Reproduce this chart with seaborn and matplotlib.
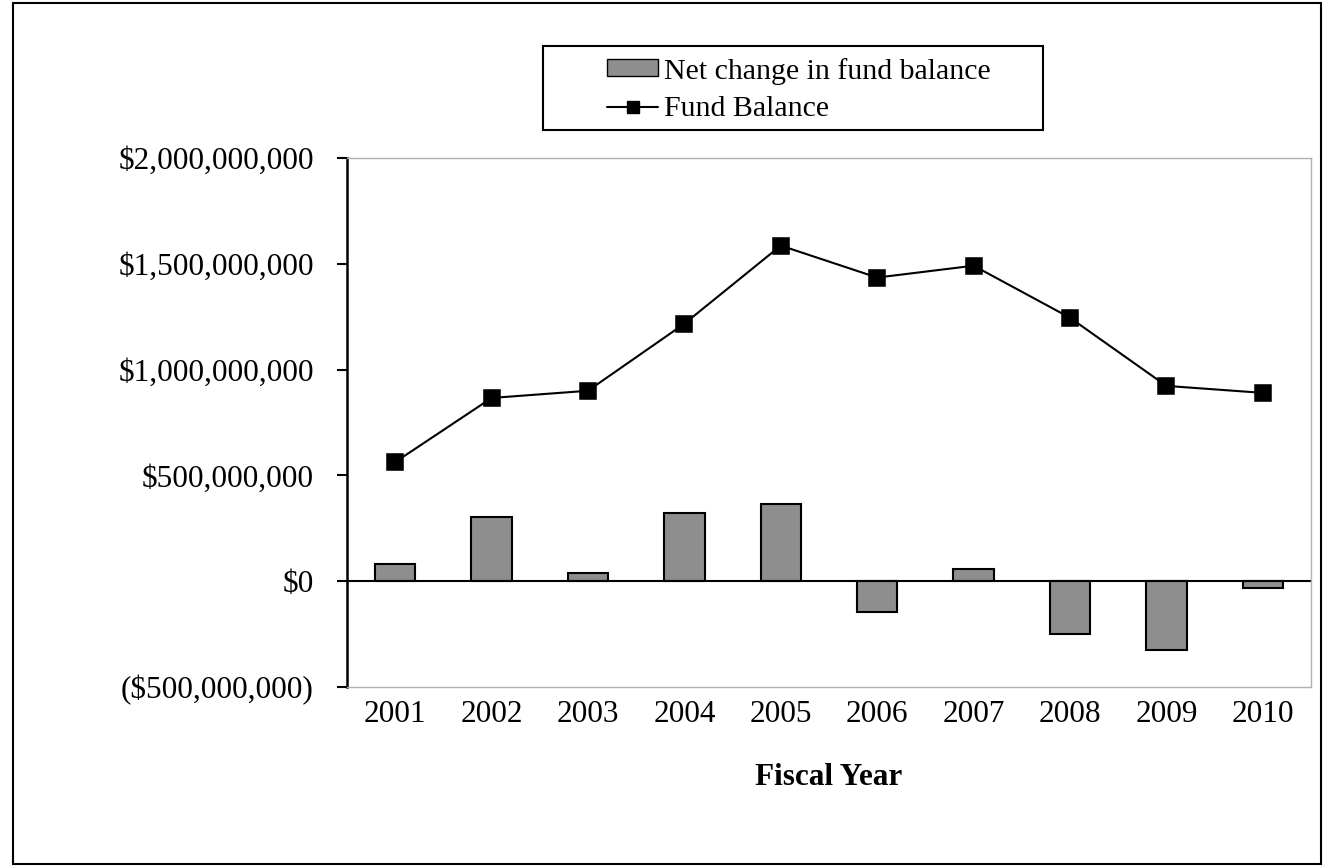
import seaborn as sns
import pandas as pd
import matplotlib.pyplot as plt
from matplotlib.patches import Patch, Rectangle
from matplotlib.lines import Line2D
from matplotlib.ticker import FuncFormatter

years = ['2001', '2002', '2003', '2004', '2005', '2006', '2007', '2008', '2009', '2010']
net_change = [80e6, 302e6, 38e6, 321e6, 364e6, -146e6, 57e6, -250e6, -326e6, -33e6]
fund_balance = [563e6, 866e6, 900e6, 1217e6, 1586e6, 1435e6, 1491e6, 1245e6, 923e6, 890e6]

df = pd.DataFrame({'year': years, 'net_change': net_change, 'fund_balance': fund_balance})

sns.set_style('white')
plt.rcParams['font.family'] = ['Liberation Serif', 'DejaVu Serif']
plt.rcParams['text.color'] = 'black'
plt.rcParams['xtick.color'] = 'black'
plt.rcParams['ytick.color'] = 'black'
plt.rcParams['axes.labelcolor'] = 'black'
fs = 22.5

fig = plt.figure(figsize=(13.25, 8.66), dpi=100)
ax = fig.add_axes([347/1325, 1 - 687/866, (1311 - 347)/1325, (687 - 158)/866])

# bars and line
sns.barplot(x='year', y='net_change', data=df, ax=ax, color='#8e8e8e', width=0.42,
            edgecolor='black', linewidth=1.5, saturation=1)
sns.pointplot(x='year', y='fund_balance', data=df, ax=ax, color='black', markers='s',
              linestyles='-', markersize=11, linewidth=1.5)

ax.axhline(0, color='black', linewidth=1.5, zorder=1)

# axis formatting
ax.set_ylim(-500e6, 2000e6)
ax.set_xlim(-0.5, 9.5)
ax.set_yticks([-500e6, 0, 500e6, 1000e6, 1500e6, 2000e6])


def money(v, pos):
    if v < 0:
        return '(${:,.0f})'.format(-v)
    return '${:,.0f}'.format(v)


ax.yaxis.set_major_formatter(FuncFormatter(money))
ax.tick_params(axis='y', which='major', left=True, length=7, width=1.5, direction='out',
               labelsize=fs, pad=17)
ax.tick_params(axis='x', bottom=False, labelsize=fs, pad=6)

ax.set_ylabel('')
ax.set_xlabel('Fiscal Year', fontsize=fs, fontweight='bold', labelpad=24)

for side in ['top', 'right', 'bottom']:
    ax.spines[side].set_color('#b0b0b0')
    ax.spines[side].set_linestyle((0, (1, 1)))
    ax.spines[side].set_linewidth(1)
ax.spines['left'].set_color('black')
ax.spines['left'].set_linewidth(1.8)

# legend (frameless, box drawn separately for wider side padding)
handles = [Patch(facecolor='#8e8e8e', edgecolor='black', linewidth=1),
           Line2D([0], [0], color='black', marker='s', markersize=9, linewidth=1.5)]
labels = ['Net change in fund balance', 'Fund Balance']
fig.legend(handles, labels, loc='center', bbox_to_anchor=(799/1325, 1 - 90/866),
           fontsize=21.5, frameon=False, labelspacing=0.4, handleheight=0.5,
           handlelength=1.7, handletextpad=0.2, borderaxespad=0, borderpad=0)
fig.patches.append(Rectangle((543/1325, 1 - 130/866), 500/1325, 84/866, transform=fig.transFigure,
                             fill=False, edgecolor='black', linewidth=1.5))

# outer border of the chart
fig.patches.append(Rectangle((13/1325, 0.002), 1308/1325, 1 - 5/866, transform=fig.transFigure,
                             fill=False, edgecolor='black', linewidth=1.5))

plt.savefig('out.png', dpi=100)
